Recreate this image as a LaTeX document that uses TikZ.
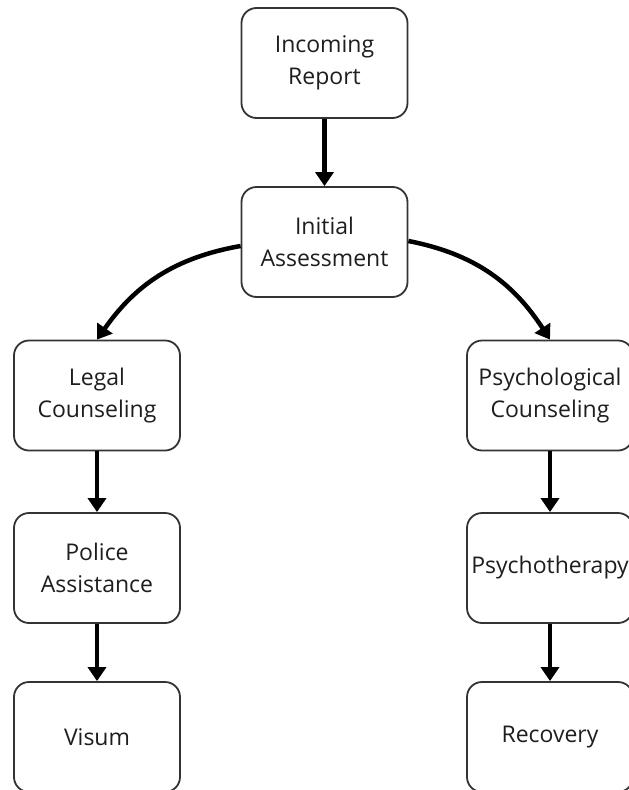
\documentclass[tikz,border=0pt]{standalone}
\usepackage{fontspec}
\setmainfont{Open Sans}
\usetikzlibrary{arrows.meta}
\definecolor{boxline}{HTML}{333333}
\definecolor{boxtext}{HTML}{1E1E1E}
\tikzset{
  stepbox/.style={draw=boxline, line width=1.8pt, rounded corners=15pt, fill=white,
    minimum width=166pt, minimum height=110pt, inner xsep=0pt, inner ysep=4pt,
    align=center, text=boxtext,
    font=\fontsize{23}{32}\selectfont},
  flow/.style={line width=4.5pt, draw=black,
    -{Triangle[width=18pt,length=14pt]}}
}
\begin{document}
\begin{tikzpicture}[x=1pt, y=-1pt]
  \useasboundingbox (0,0) rectangle (629,790);

  % top of the chart
  \node[stepbox] (inc) at (324.5,63) {Incoming\\Report};
  \node[stepbox] (ini) at (324.5,242) {Initial\\Assessment};

  % legal branch
  \node[stepbox] (legal) at (97,395.5) {Legal\\Counseling};
  \node[stepbox] (police) at (97,568) {Police\\Assistance};
  \node[stepbox] (visum) at (97,737) {Visum};

  % psychological branch
  \node[stepbox] (psyc) at (550,395.5) {Psychological\\Counseling};
  \node[stepbox] (psyt) at (550,568) {Psychotherapy};
  \node[stepbox] (rec) at (550,737) {Recovery};

  % connectors
  \draw[flow] (inc.south) -- (ini.north);
  \draw[flow] ([yshift=-4pt]ini.west) to[out=190, in=55] (legal.north);
  \draw[flow] ([yshift=1pt]ini.east) to[out=-11, in=123] (psyc.north);
  \draw[flow] (legal.south) -- (police.north);
  \draw[flow] (police.south) -- (visum.north);
  \draw[flow] (psyc.south) -- (psyt.north);
  \draw[flow] (psyt.south) -- (rec.north);
\end{tikzpicture}
\end{document}
